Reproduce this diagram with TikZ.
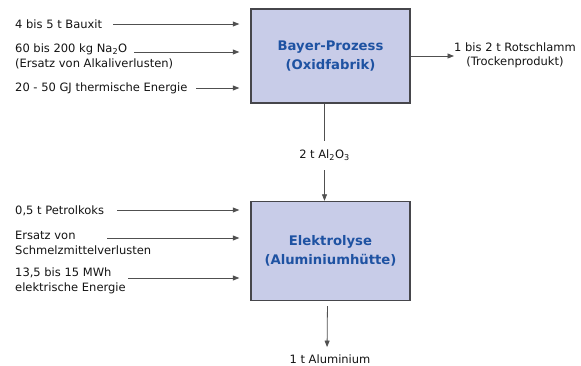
\documentclass[tikz,border=0pt]{standalone}
\usepackage{fontspec}
\setmainfont{DejaVu Sans}
\usetikzlibrary{arrows.meta}
\definecolor{boxfill}{RGB}{200,204,232}
\definecolor{boxline}{RGB}{70,70,75}
\definecolor{titleblue}{RGB}{30,82,162}
\definecolor{linegray}{RGB}{80,80,80}
\definecolor{txt}{RGB}{20,20,20}
\begin{document}
\begin{tikzpicture}[x=1pt,y=-1pt,
  procbox/.style={draw=boxline,line width=1.4pt,fill=boxfill,minimum width=159pt,
    inner sep=0pt,align=center,text=titleblue,
    font=\fontsize{13.2}{18.5}\selectfont\bfseries},
  lbl/.style={anchor=west,align=left,inner sep=0pt,text=txt,
    font=\fontsize{11.5}{15}\selectfont},
  lblc/.style={align=center,inner sep=0pt,text=txt,
    font=\fontsize{11.5}{14}\selectfont},
  flow/.style={draw=linegray,line width=0.8pt,-{Triangle[length=6.5pt,width=5pt]}}]
\useasboundingbox (0,0) rectangle (581,365);
\fill[white] (0,0) rectangle (581,365);

\node[procbox,minimum height=94pt] (bayer) at (330.5,56) {Bayer-Prozess\\(Oxidfabrik)};
\node[procbox,minimum height=99pt] (elektro) at (330.5,251) {Elektrolyse\\(Aluminiumhütte)};

% inputs Bayer
\node[lbl] (l1) at (15,24) {4 bis 5 t Bauxit};
\node[lbl] (l2) at (15,56.5) {60 bis 200 kg Na\textsubscript{2}O\\(Ersatz von Alkaliverlusten)};
\node[lbl] (l3) at (15,88) {20 - 50 GJ thermische Energie};
\coordinate (s1) at (113,24);
\coordinate (s2) at (134,52);
\coordinate (s3) at (196,88);
\draw[flow,shorten >=11pt] (s1) -- (s1 -| bayer.west);
\draw[flow,shorten >=11pt] (s2) -- (s2 -| bayer.west);
\draw[flow,shorten >=11pt] (s3) -- (s3 -| bayer.west);

% output Rotschlamm
\node[lblc,anchor=west] (rot) at (454,55) {1 bis 2 t Rotschlamm\\(Trockenprodukt)};
\draw[flow] (bayer.east) -- (bayer.east -| rot.west);

% Bayer -> Elektrolyse
\draw[flow] ([xshift=-6pt]bayer.south) -- node[lblc,fill=white,inner ysep=9pt,inner xsep=2pt,pos=0.53] (al) {2 t Al\textsubscript{2}O\textsubscript{3}} ([xshift=-6pt]elektro.north);

% inputs Elektrolyse
\node[lbl] (l4) at (15,211) {0,5 t Petrolkoks};
\node[lbl] (l5) at (15,242.5) {Ersatz von\\Schmelzmittelverlusten};
\node[lbl] (l6) at (15,280.5) {13,5 bis 15 MWh\\elektrische Energie};
\coordinate (s4) at (117,210);
\coordinate (s5) at (107,238);
\coordinate (s6) at (128,278);
\draw[flow,shorten >=11pt] (s4) -- (s4 -| elektro.west);
\draw[flow,shorten >=11pt] (s5) -- (s5 -| elektro.west);
\draw[flow,shorten >=11pt] (s6) -- (s6 -| elektro.west);

% output Aluminium
\node[lblc,anchor=base] (alu) at (330,363) {1 t Aluminium};
\draw[flow,shorten <=5pt,shorten >=7pt] ([xshift=-3pt]elektro.south) -- ([xshift=-3pt]alu.north);
\end{tikzpicture}
\end{document}
